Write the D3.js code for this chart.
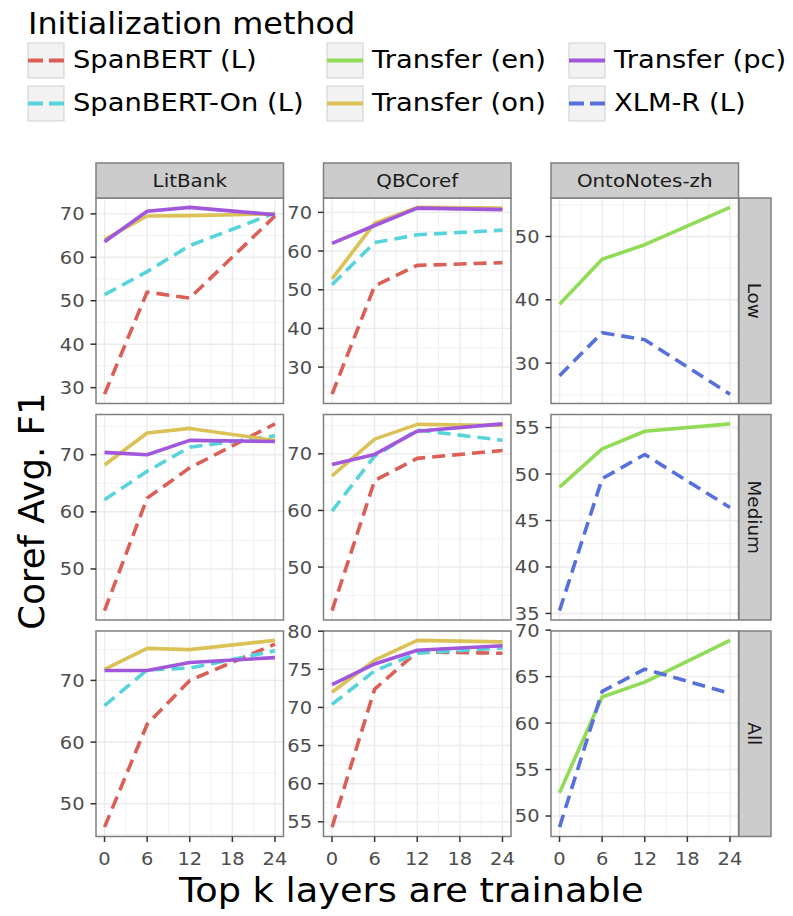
<!DOCTYPE html>
<html><head><meta charset="utf-8">
<script src="https://cdn.jsdelivr.net/npm/d3@7"></script>
<style>body{margin:0;background:#fff}svg{display:block}text{font-family:"DejaVu Sans",sans-serif}</style>
</head><body><svg id="c" width="793" height="916"></svg>
<script>
// ---------- data ----------
const xValues = [0, 6, 12, 24];
const xTicks = [0, 6, 12, 18, 24];
const datasets = ["LitBank", "QBCoref", "OntoNotes-zh"];
const budgets = ["Low", "Medium", "All"];
const methods = ["SpanBERT (L)", "SpanBERT-On (L)", "Transfer (en)", "Transfer (on)", "Transfer (pc)", "XLM-R (L)"];
const methodColors = ["#db5f57", "#57d3db", "#91db57", "#dbc257", "#a157db", "#5770db"];
const methodDashed = [true, true, false, false, false, true];
const legendTitle = "Initialization method";
const xTitle = "Top k layers are trainable";
const yTitle = "Coref Avg. F1";

// LitBank
const litLowSpanBERT   = [28.5, 52.0, 50.6, 69.5];
const litLowSpanBERTOn = [51.4, 56.7, 62.7, 70.2];
const litLowTransferOn = [64.1, 69.5, 69.6, 70.0];
const litLowTransferPc = [63.6, 70.6, 71.5, 69.8];
const litMedSpanBERT   = [42.7, 62.4, 67.7, 75.4];
const litMedSpanBERTOn = [62.1, 67.1, 71.3, 73.3];
const litMedTransferOn = [68.2, 73.8, 74.6, 72.5];
const litMedTransferPc = [70.4, 70.0, 72.5, 72.3];
const litAllSpanBERT   = [46.2, 62.9, 70.0, 75.9];
const litAllSpanBERTOn = [65.9, 71.7, 72.0, 74.8];
const litAllTransferOn = [71.8, 75.2, 75.0, 76.5];
const litAllTransferPc = [71.6, 71.6, 72.9, 73.7];
// QBCoref
const qbLowSpanBERT   = [23.0, 51.0, 56.3, 57.0];
const qbLowSpanBERTOn = [51.3, 62.2, 64.2, 65.4];
const qbLowTransferOn = [52.8, 67.2, 71.3, 71.1];
const qbLowTransferPc = [62.0, 66.6, 71.1, 70.7];
const qbMedSpanBERT   = [42.3, 65.3, 69.2, 70.6];
const qbMedSpanBERTOn = [59.9, 69.6, 74.2, 72.4];
const qbMedTransferOn = [66.1, 72.6, 75.2, 75.0];
const qbMedTransferPc = [68.1, 69.9, 74.0, 75.3];
const qbAllSpanBERT   = [54.3, 72.4, 77.3, 77.1];
const qbAllSpanBERTOn = [70.4, 74.8, 77.1, 77.8];
const qbAllTransferOn = [72.0, 76.2, 78.8, 78.6];
const qbAllTransferPc = [73.0, 75.7, 77.5, 78.1];
// OntoNotes-zh
const onLowTransferEn = [39.3, 46.4, 48.7, 54.6];
const onLowXLMR       = [28.0, 34.8, 33.7, 25.1];
const onMedTransferEn = [48.6, 52.7, 54.6, 55.4];
const onMedXLMR       = [35.3, 49.5, 52.1, 46.4];
const onAllTransferEn = [52.5, 62.8, 64.4, 68.9];
const onAllXLMR       = [48.8, 63.4, 65.8, 63.2];

// y tick labels per panel
const litLowTicks = [30, 40, 50, 60, 70];
const litMedTicks = [50, 60, 70];
const litAllTicks = [50, 60, 70];
const qbLowTicks = [30, 40, 50, 60, 70];
const qbMedTicks = [50, 60, 70];
const qbAllTicks = [55, 60, 65, 70, 75, 80];
const onLowTicks = [30, 40, 50];
const onMedTicks = [35, 40, 45, 50, 55];
const onAllTicks = [50, 55, 60, 65, 70];

const panels = [
  {col: 0, row: 0, ticks: litLowTicks, series: [[0, litLowSpanBERT], [1, litLowSpanBERTOn], [3, litLowTransferOn], [4, litLowTransferPc]]},
  {col: 1, row: 0, ticks: qbLowTicks,  series: [[0, qbLowSpanBERT], [1, qbLowSpanBERTOn], [3, qbLowTransferOn], [4, qbLowTransferPc]]},
  {col: 2, row: 0, ticks: onLowTicks,  series: [[2, onLowTransferEn], [5, onLowXLMR]]},
  {col: 0, row: 1, ticks: litMedTicks, series: [[0, litMedSpanBERT], [1, litMedSpanBERTOn], [3, litMedTransferOn], [4, litMedTransferPc]]},
  {col: 1, row: 1, ticks: qbMedTicks,  series: [[0, qbMedSpanBERT], [1, qbMedSpanBERTOn], [3, qbMedTransferOn], [4, qbMedTransferPc]]},
  {col: 2, row: 1, ticks: onMedTicks,  series: [[2, onMedTransferEn], [5, onMedXLMR]]},
  {col: 0, row: 2, ticks: litAllTicks, series: [[0, litAllSpanBERT], [1, litAllSpanBERTOn], [3, litAllTransferOn], [4, litAllTransferPc]]},
  {col: 1, row: 2, ticks: qbAllTicks,  series: [[0, qbAllSpanBERT], [1, qbAllSpanBERTOn], [3, qbAllTransferOn], [4, qbAllTransferPc]]},
  {col: 2, row: 2, ticks: onAllTicks,  series: [[2, onAllTransferEn], [5, onAllXLMR]]}
];

// ---------- layout ----------
const SX = 1.08;
const panelLeft = 96, panelW = 187.5, colGap = 40;
const panelTop = 198, panelH = 205.5, rowGap = 11;
const stripH = 35, rstripW = 32;
const border = "#7f7f7f";

const svg = d3.select("#c");
function stretch(sel, x, y, extra) {
  sel.attr("x", 0).attr("y", 0)
     .attr("transform", `translate(${x},${y}) scale(${SX},1)` + (extra || ""));
  return sel;
}

const xDomain = [d3.min(xValues), d3.max(xValues)];
const xPad = (xDomain[1] - xDomain[0]) * 0.05;

panels.forEach(p => {
  const x0 = panelLeft + p.col * (panelW + colGap);
  const y0 = panelTop + p.row * (panelH + rowGap);
  const g = svg.append("g").attr("transform", `translate(${x0},${y0})`);

  const allV = p.series.flatMap(s => s[1]);
  const lo = d3.min(allV), hi = d3.max(allV), pad = (hi - lo) * 0.05;
  const y = d3.scaleLinear().domain([lo - pad, hi + pad]).range([panelH, 0]);
  const x = d3.scaleLinear().domain([xDomain[0] - xPad, xDomain[1] + xPad]).range([0, panelW]);

  // grid
  const step = p.ticks[1] - p.ticks[0];
  const yMinor = [p.ticks[0] - step / 2, ...p.ticks.map(t => t + step / 2)]
    .filter(v => v >= y.domain()[0] && v <= y.domain()[1]);
  const xStep = xTicks[1] - xTicks[0];
  const xMinor = [xTicks[0] - xStep / 2, ...xTicks.map(t => t + xStep / 2)]
    .filter(v => v >= x.domain()[0] && v <= x.domain()[1]);

  g.append("rect").attr("width", panelW).attr("height", panelH).attr("fill", "#fff");
  g.selectAll(".ymin").data(yMinor).join("line")
    .attr("x1", 0).attr("x2", panelW).attr("y1", d => y(d)).attr("y2", d => y(d))
    .attr("stroke", "#ebebeb").attr("stroke-width", 0.7);
  g.selectAll(".xmin").data(xMinor).join("line")
    .attr("y1", 0).attr("y2", panelH).attr("x1", d => x(d)).attr("x2", d => x(d))
    .attr("stroke", "#ebebeb").attr("stroke-width", 0.7);
  g.selectAll(".ymaj").data(p.ticks).join("line")
    .attr("x1", 0).attr("x2", panelW).attr("y1", d => y(d)).attr("y2", d => y(d))
    .attr("stroke", "#ebebeb").attr("stroke-width", 1.4);
  g.selectAll(".xmaj").data(xTicks).join("line")
    .attr("y1", 0).attr("y2", panelH).attr("x1", d => x(d)).attr("x2", d => x(d))
    .attr("stroke", "#ebebeb").attr("stroke-width", 1.4);

  // lines
  const line = d3.line().x((d, i) => x(xValues[i])).y(d => y(d));
  p.series.forEach(([m, vals]) => {
    g.append("path").attr("d", line(vals)).attr("fill", "none")
      .attr("stroke", methodColors[m]).attr("stroke-width", 3.6)
      .attr("stroke-dasharray", methodDashed[m] ? "13,7" : null)
      .attr("stroke-linejoin", "round");
  });

  // border
  g.append("rect").attr("width", panelW).attr("height", panelH)
    .attr("fill", "none").attr("stroke", border).attr("stroke-width", 1.5);

  // y axis
  p.ticks.forEach(t => {
    g.append("line").attr("x1", -5.5).attr("x2", 0).attr("y1", y(t)).attr("y2", y(t))
      .attr("stroke", "#333").attr("stroke-width", 1.5);
    stretch(g.append("text").text(t).attr("text-anchor", "end").attr("dy", "0.36em")
      .attr("font-size", 18).attr("fill", "#4d4d4d"), -11.5, y(t));
  });

  // x axis on bottom row
  if (p.row === 2) {
    xTicks.forEach(t => {
      g.append("line").attr("x1", x(t)).attr("x2", x(t)).attr("y1", panelH).attr("y2", panelH + 5.5)
        .attr("stroke", "#333").attr("stroke-width", 1.5);
      stretch(g.append("text").text(t).attr("text-anchor", "middle")
        .attr("font-size", 18).attr("fill", "#4d4d4d"), x(t), panelH + 28);
    });
  }

  // top strip
  if (p.row === 0) {
    g.append("rect").attr("x", 0).attr("y", -stripH).attr("width", panelW).attr("height", stripH)
      .attr("fill", "#cccccc").attr("stroke", border).attr("stroke-width", 1.5);
    stretch(g.append("text").text(datasets[p.col]).attr("text-anchor", "middle").attr("dy", "0.36em")
      .attr("font-size", 18.4).attr("fill", "#1a1a1a"), panelW / 2, -stripH / 2);
  }
  // right strip
  if (p.col === 2) {
    g.append("rect").attr("x", panelW + 0.5).attr("y", 0).attr("width", rstripW).attr("height", panelH)
      .attr("fill", "#cccccc").attr("stroke", border).attr("stroke-width", 1.5);
    g.append("text").text(budgets[p.row]).attr("text-anchor", "middle").attr("dy", "0.36em")
      .attr("font-size", 18.4).attr("fill", "#1a1a1a")
      .attr("transform", `translate(${panelW + 0.5 + rstripW / 2},${panelH / 2}) rotate(90)`);
  }
});

// axis titles
const gridLeft = panelLeft, gridRight = panelLeft + 3 * panelW + 2 * colGap;
stretch(svg.append("text").text(xTitle).attr("text-anchor", "middle")
  .attr("font-size", 34).attr("fill", "#000"), (gridLeft + gridRight) / 2 - 6, 902);
svg.append("text").text(yTitle).attr("text-anchor", "middle")
  .attr("font-size", 35.5).attr("fill", "#000")
  .attr("transform", `translate(44,511) rotate(-90)`);

// legend
stretch(svg.append("text").text(legendTitle).attr("font-size", 29.5).attr("fill", "#000"), 28, 34);
const legCols = [28, 327, 569], legRows = [43, 86], keyW = 36, keyH = 35;
methods.forEach((m, i) => {
  const c = Math.floor(i / 2), r = i % 2;
  const kx = legCols[c], ky = legRows[r];
  svg.append("rect").attr("x", kx).attr("y", ky).attr("width", keyW).attr("height", keyH)
    .attr("fill", "#f2f2f2").attr("stroke", "#cfcfcf").attr("stroke-width", 1);
  svg.append("line").attr("x1", kx).attr("x2", kx + keyW).attr("y1", ky + keyH / 2).attr("y2", ky + keyH / 2)
    .attr("stroke", methodColors[i]).attr("stroke-width", 4)
    .attr("stroke-dasharray", methodDashed[i] ? "15,6" : null);
  stretch(svg.append("text").text(m).attr("font-size", 25.3).attr("fill", "#000"), kx + 45, ky + 24.5);
});
</script></body></html>
